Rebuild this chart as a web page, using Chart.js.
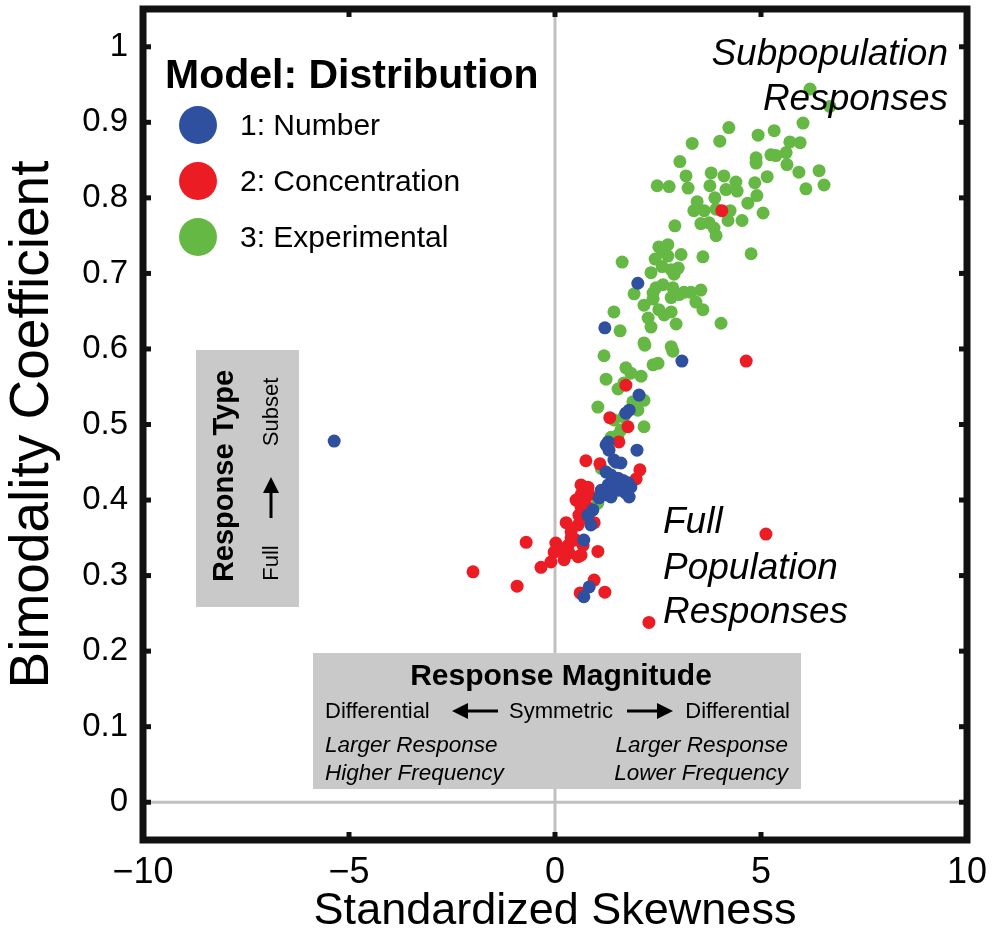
<!DOCTYPE html>
<html><head><meta charset="utf-8">
<script src="https://cdn.jsdelivr.net/npm/chart.js@4/dist/chart.umd.min.js"></script>
<style>html,body{margin:0;padding:0;background:#fff;}#wrap{width:1003px;height:943px;position:relative}</style>
</head><body><div id="wrap"><canvas id="c" width="1003" height="943"></canvas></div>
<script>
const seriesNames = ['1: Number', '2: Concentration', '3: Experimental'];
const seriesColors = ['#2f4f9f', '#ec1c24', '#66b844'];

const numberPoints = [
  [-5.36,0.478],[2.01,0.687],[1.21,0.628],[3.08,0.584],[2.04,0.539],[1.80,0.519],[1.72,0.515],
  [1.29,0.477],[1.24,0.473],[1.31,0.466],[1.99,0.466],[1.43,0.453],[1.60,0.449],[1.48,0.450],
  [1.24,0.437],[1.36,0.433],[1.53,0.429],[1.65,0.426],[1.77,0.423],[1.84,0.417],[1.29,0.420],
  [1.41,0.416],[1.55,0.413],[1.72,0.409],[1.80,0.404],[1.21,0.407],[1.36,0.404],[1.12,0.413],
  [1.07,0.403],[0.92,0.387],[0.80,0.380],[0.87,0.367],[0.70,0.347],[0.83,0.285],[0.70,0.272]
];
const concentrationPoints = [
  [4.05,0.783],[4.64,0.584],[5.12,0.355],[2.28,0.238],[-1.99,0.305],[-0.92,0.286],[-0.70,0.344],
  [1.72,0.552],[1.33,0.509],[1.77,0.497],[1.55,0.477],[0.75,0.452],[1.09,0.448],[2.06,0.440],
  [1.97,0.428],[0.63,0.420],[0.80,0.417],[0.63,0.407],[0.83,0.407],[0.51,0.400],[0.75,0.393],
  [0.63,0.391],[0.58,0.380],[0.70,0.377],[0.27,0.370],[0.56,0.367],[0.95,0.370],[0.39,0.358],
  [0.51,0.347],[0.32,0.340],[0.02,0.343],[0.39,0.350],[0.68,0.340],[0.15,0.336],[1.04,0.332],
  [-0.02,0.331],[0.34,0.330],[0.63,0.327],[-0.10,0.318],[-0.34,0.311],[0.22,0.321],[0.56,0.325],
  [0.95,0.294],[1.21,0.278],[0.61,0.277]
];
const experimentalPoints = [
  [6.19,0.944],[6.67,0.921],[6.02,0.899],[4.22,0.893],[4.00,0.875],[3.33,0.872],[4.93,0.883],
  [5.32,0.889],[5.70,0.874],[5.95,0.873],[3.03,0.848],[3.18,0.829],[2.48,0.816],[2.77,0.815],
  [3.23,0.813],[3.79,0.833],[3.76,0.816],[4.10,0.829],[4.39,0.821],[4.15,0.811],[4.42,0.809],
  [4.88,0.853],[4.88,0.846],[5.24,0.857],[5.36,0.856],[5.61,0.860],[5.63,0.844],[5.92,0.834],
  [6.41,0.836],[6.53,0.817],[6.09,0.812],[5.15,0.828],[4.85,0.820],[4.90,0.803],[4.68,0.793],
  [5.05,0.780],[3.88,0.800],[3.45,0.795],[3.37,0.783],[3.62,0.783],[3.91,0.785],[4.25,0.783],
  [4.20,0.770],[4.54,0.770],[2.91,0.763],[3.54,0.766],[3.74,0.767],[3.86,0.760],[3.91,0.750],
  [2.52,0.735],[2.74,0.738],[2.65,0.728],[2.74,0.723],[2.43,0.719],[3.06,0.725],[3.59,0.722],
  [4.76,0.726],[1.63,0.715],[2.60,0.709],[2.82,0.705],[2.99,0.707],[2.89,0.699],[2.33,0.701],
  [1.92,0.673],[2.62,0.685],[2.45,0.681],[2.38,0.674],[2.38,0.666],[2.86,0.681],[2.82,0.668],
  [3.01,0.672],[3.13,0.675],[3.30,0.675],[3.54,0.678],[3.42,0.662],[3.59,0.652],[2.16,0.658],
  [2.26,0.641],[2.33,0.629],[2.52,0.652],[2.65,0.645],[2.82,0.649],[2.94,0.633],[1.43,0.649],
  [1.58,0.624],[2.16,0.608],[2.82,0.603],[2.86,0.597],[1.19,0.591],[4.03,0.634],[2.50,0.581],
  [2.38,0.579],[1.72,0.575],[1.84,0.568],[2.09,0.564],[1.24,0.560],[1.67,0.555],[1.53,0.547],
  [2.16,0.532],[1.89,0.530],[2.01,0.519],[1.04,0.523],[1.43,0.506],[1.67,0.510],[2.16,0.497],
  [1.60,0.493],[1.53,0.486],[1.36,0.483],[1.12,0.442],[1.04,0.396],[2.18,0.605]
];

const xTickValues = [-10, -5, 0, 5, 10];
const xTickLabels = ['\u221210', '\u22125', '0', '5', '10'];
const yTickValues = [0, 0.1, 0.2, 0.3, 0.4, 0.5, 0.6, 0.7, 0.8, 0.9, 1];
const yTickLabels = ['0', '0.1', '0.2', '0.3', '0.4', '0.5', '0.6', '0.7', '0.8', '0.9', '1'];

const FONT = '"Liberation Sans", Arial, Helvetica, sans-serif';
const GRAYBOX = '#c9c9c9';

function toXY(arr) { return arr.map(p => ({x: p[0], y: p[1]})); }

function arrowH(ctx, x1, x2, y) {
  const dir = Math.sign(x2 - x1);
  ctx.save();
  ctx.strokeStyle = '#000'; ctx.fillStyle = '#000'; ctx.lineWidth = 3;
  ctx.beginPath(); ctx.moveTo(x1, y); ctx.lineTo(x2 - dir * 12, y); ctx.stroke();
  ctx.beginPath(); ctx.moveTo(x2, y); ctx.lineTo(x2 - dir * 16, y - 8); ctx.lineTo(x2 - dir * 16, y + 8); ctx.closePath(); ctx.fill();
  ctx.restore();
}
function arrowV(ctx, x, y1, y2) {
  const dir = Math.sign(y2 - y1);
  ctx.save();
  ctx.strokeStyle = '#000'; ctx.fillStyle = '#000'; ctx.lineWidth = 3;
  ctx.beginPath(); ctx.moveTo(x, y1); ctx.lineTo(x, y2 - dir * 12); ctx.stroke();
  ctx.beginPath(); ctx.moveTo(x, y2); ctx.lineTo(x - 8, y2 - dir * 16); ctx.lineTo(x + 8, y2 - dir * 16); ctx.closePath(); ctx.fill();
  ctx.restore();
}
function txt(ctx, s, x, y, font, align) {
  ctx.font = font; ctx.textAlign = align || 'left'; ctx.textBaseline = 'alphabetic'; ctx.fillStyle = '#000';
  ctx.fillText(s, x, y);
}

const decor = {
  id: 'decor',
  beforeDatasetsDraw(chart) {
    const {ctx, chartArea: a, scales: {x, y}} = chart;
    ctx.save();
    ctx.strokeStyle = '#c0c0c0'; ctx.lineWidth = 3;
    const x0 = x.getPixelForValue(0), y0 = y.getPixelForValue(0);
    ctx.beginPath(); ctx.moveTo(x0, a.top); ctx.lineTo(x0, a.bottom); ctx.stroke();
    ctx.beginPath(); ctx.moveTo(a.left, y0); ctx.lineTo(a.right, y0); ctx.stroke();
    ctx.restore();
  },
  afterDatasetsDraw(chart) {
    const ctx = chart.ctx;
    ctx.save();
    // Legend
    txt(ctx, 'Model: Distribution', 165, 88, 'bold 41px ' + FONT);
    const ly = [125, 181, 237];
    seriesNames.forEach((n, i) => {
      ctx.fillStyle = seriesColors[i];
      ctx.beginPath(); ctx.arc(198, ly[i], 19, 0, Math.PI * 2); ctx.fill();
      txt(ctx, n, 240, ly[i] + 10, '30px ' + FONT);
    });
    // Subpopulation / Full population labels
    txt(ctx, 'Subpopulation', 948, 65, 'italic 37px ' + FONT, 'right');
    txt(ctx, 'Responses', 948, 110, 'italic 37px ' + FONT, 'right');
    txt(ctx, 'Full', 663, 533, 'italic 37px ' + FONT);
    txt(ctx, 'Population', 663, 579, 'italic 37px ' + FONT);
    txt(ctx, 'Responses', 663, 623, 'italic 37px ' + FONT);
    // Response Type box
    ctx.fillStyle = GRAYBOX; ctx.fillRect(196, 350, 103, 257);
    ctx.save(); ctx.translate(233, 476); ctx.rotate(-Math.PI / 2);
    txt(ctx, 'Response Type', 0, 0, 'bold 29px ' + FONT, 'center');
    ctx.restore();
    ctx.save(); ctx.translate(278, 563); ctx.rotate(-Math.PI / 2);
    txt(ctx, 'Full', 0, 0, '22px ' + FONT, 'center'); ctx.restore();
    ctx.save(); ctx.translate(278, 412); ctx.rotate(-Math.PI / 2);
    txt(ctx, 'Subset', 0, 0, '22px ' + FONT, 'center'); ctx.restore();
    arrowV(ctx, 271, 518, 477);
    // Response Magnitude box
    ctx.fillStyle = GRAYBOX; ctx.fillRect(313, 653, 488, 136);
    txt(ctx, 'Response Magnitude', 561, 685, 'bold 30px ' + FONT, 'center');
    txt(ctx, 'Differential', 325, 718, '22px ' + FONT);
    arrowH(ctx, 498, 452, 711);
    txt(ctx, 'Symmetric', 509, 718, '22px ' + FONT);
    arrowH(ctx, 627, 673, 711);
    txt(ctx, 'Differential', 790, 718, '22px ' + FONT, 'right');
    txt(ctx, 'Larger Response', 325, 752, 'italic 22.5px ' + FONT);
    txt(ctx, 'Higher Frequency', 325, 780, 'italic 22.5px ' + FONT);
    txt(ctx, 'Larger Response', 788, 752, 'italic 22.5px ' + FONT, 'right');
    txt(ctx, 'Lower Frequency', 788, 780, 'italic 22.5px ' + FONT, 'right');
    ctx.restore();
  },
  afterDraw(chart) {
    const {ctx, chartArea: a, scales: {x, y}} = chart;
    ctx.save();
    ctx.strokeStyle = '#111'; ctx.lineWidth = 7;
    ctx.strokeRect(a.left, a.top, a.right - a.left, a.bottom - a.top);
    ctx.fillStyle = '#111';
    [-5, 0, 5].forEach(v => {
      const px = x.getPixelForValue(v);
      ctx.fillRect(px - 2.5, a.top, 5, 8);
      ctx.fillRect(px - 2.5, a.bottom - 8, 5, 8);
    });
    yTickValues.forEach(v => {
      const py = y.getPixelForValue(v);
      ctx.fillRect(a.left, py - 2.5, 8, 5);
      ctx.fillRect(a.right - 8, py - 2.5, 8, 5);
    });
    ctx.restore();
  }
};

new Chart(document.getElementById('c'), {
  type: 'scatter',
  data: {
    datasets: [
      {label: seriesNames[0], data: toXY(numberPoints), backgroundColor: seriesColors[0], borderWidth: 0, pointRadius: 6.5},
      {label: seriesNames[1], data: toXY(concentrationPoints), backgroundColor: seriesColors[1], borderWidth: 0, pointRadius: 6.5},
      {label: seriesNames[2], data: toXY(experimentalPoints), backgroundColor: seriesColors[2], borderWidth: 0, pointRadius: 6.5}
    ]
  },
  options: {
    responsive: false, animation: false, devicePixelRatio: 1,
    layout: {padding: {left: 0, right: 36, top: 9, bottom: 0}},
    plugins: {legend: {display: false}, tooltip: {enabled: false}},
    scales: {
      x: {
        type: 'linear', position: 'bottom', min: -10, max: 10,
        grid: {display: false, drawTicks: false}, border: {display: false},
        afterBuildTicks: s => { s.ticks = xTickValues.map(v => ({value: v})); },
        ticks: {callback: v => xTickLabels[xTickValues.indexOf(v)], font: {family: FONT, size: 36}, color: '#000', padding: 11, maxRotation: 0, autoSkip: false},
        title: {display: true, text: 'Standardized Skewness', font: {family: FONT, size: 45}, color: '#000', padding: {top: 0, bottom: 4}},
        afterFit: s => { s.height = 103; s.paddingLeft = 0; s.paddingRight = 0; }
      },
      y: {
        type: 'linear', position: 'left', min: -0.05, max: 1.05,
        grid: {display: false, drawTicks: false}, border: {display: false},
        afterBuildTicks: s => { s.ticks = yTickValues.map(v => ({value: v})); },
        ticks: {callback: v => yTickLabels[yTickValues.indexOf(v)], font: {family: FONT, size: 33}, color: '#000', padding: 15, autoSkip: false},
        title: {display: true, text: 'Bimodality Coefficient', font: {family: FONT, size: 55}, color: '#000', padding: {top: 0, bottom: 0}},
        afterFit: s => { s.width = 143; s.paddingTop = 0; s.paddingBottom = 0; }
      }
    }
  },
  plugins: [decor]
});
</script>
</body></html>
